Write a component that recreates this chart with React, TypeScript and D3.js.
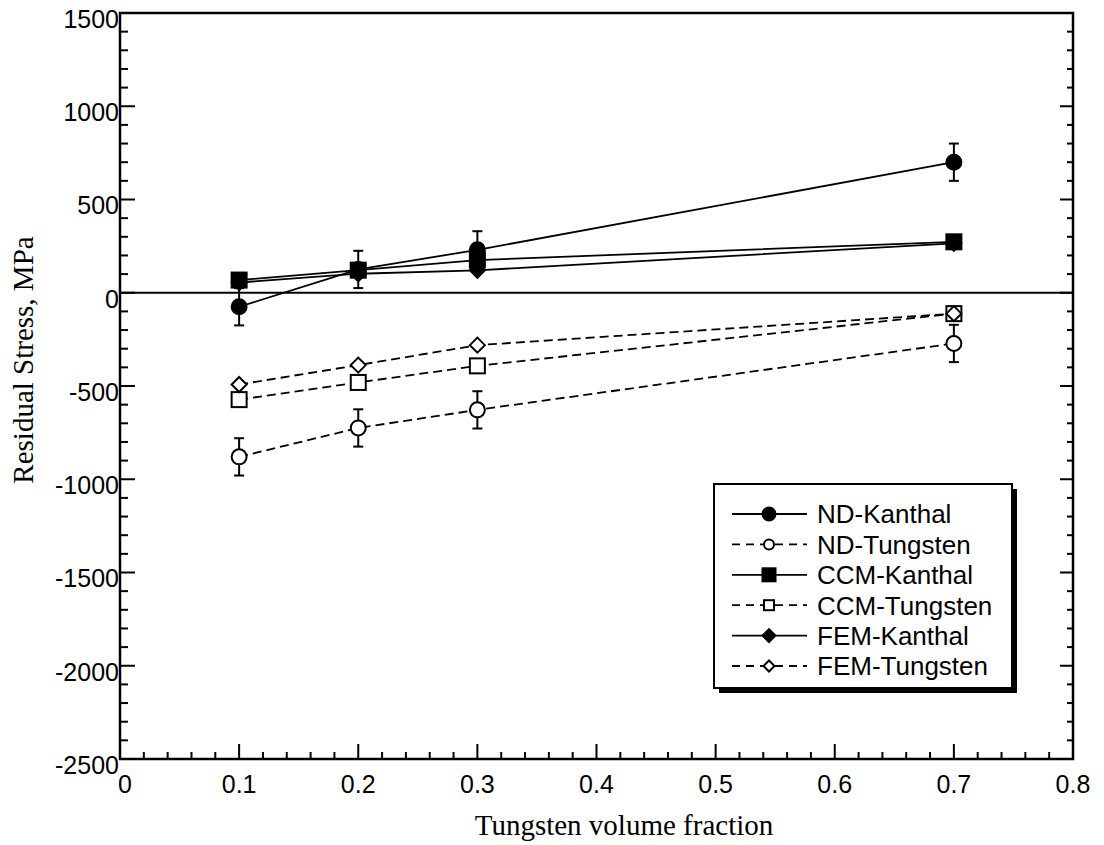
import React from "react";
import * as d3 from "d3";

// Tungsten volume fraction
const fractions = [0.1, 0.2, 0.3, 0.7];

// residual stress, MPa
const ndKanthal = [-75, 125, 230, 700];
const ndTungsten = [-880, -725, -628, -272];
const ccmKanthal = [68, 121, 175, 273];
const ccmTungsten = [-573, -481, -392, -112];
const femKanthal = [55, 102, 120, 265];
const femTungsten = [-492, -388, -281, -112];
const ndError = [100, 100, 100, 100];

const xTicks = [0, 0.1, 0.2, 0.3, 0.4, 0.5, 0.6, 0.7, 0.8];
const yTicks = [-2500, -2000, -1500, -1000, -500, 0, 500, 1000, 1500];

type Shape = "circle" | "square" | "diamond";

const seriesList: { name: string; values: number[]; shape: Shape; filled: boolean; err?: number[] }[] = [
  { name: "ND-Kanthal", values: ndKanthal, shape: "circle", filled: true, err: ndError },
  { name: "ND-Tungsten", values: ndTungsten, shape: "circle", filled: false, err: ndError },
  { name: "CCM-Kanthal", values: ccmKanthal, shape: "square", filled: true },
  { name: "CCM-Tungsten", values: ccmTungsten, shape: "square", filled: false },
  { name: "FEM-Kanthal", values: femKanthal, shape: "diamond", filled: true },
  { name: "FEM-Tungsten", values: femTungsten, shape: "diamond", filled: false },
];

const W = 1104;
const H = 845;
const left = 120;
const right = 1073;
const top = 13;
const bottom = 759;

const sans = "'Liberation Sans', Arial, sans-serif";
const serif = "'Liberation Serif', 'Times New Roman', serif";

function Marker({ shape, filled, x, y, size }: { shape: Shape; filled: boolean; x: number; y: number; size: number }) {
  const fill = filled ? "#000" : "#fff";
  const sw = 2;
  if (shape === "circle") {
    return <circle cx={x} cy={y} r={size / 2} fill={fill} stroke="#000" strokeWidth={sw} />;
  }
  if (shape === "square") {
    return <rect x={x - size / 2} y={y - size / 2} width={size} height={size} fill={fill} stroke="#000" strokeWidth={sw} />;
  }
  const h = size / 2;
  return (
    <path
      d={`M${x},${y - h}L${x + h},${y}L${x},${y + h}L${x - h},${y}Z`}
      fill={fill}
      stroke="#000"
      strokeWidth={sw}
    />
  );
}

export default function App() {
  const x = d3.scaleLinear().domain([0, 0.8]).range([left, right]);
  const y = d3.scaleLinear().domain([-2500, 1500]).range([bottom, top]);

  const xMinor = d3.range(0, 0.8001, 0.02).filter((v) => Math.abs(v * 10 - Math.round(v * 10)) > 1e-6);
  const yMinor = d3.range(-2500, 1501, 100).filter((v) => v % 500 !== 0);

  const line = d3
    .line<number>()
    .x((_, i) => x(fractions[i]))
    .y((d) => y(d));

  const legX0 = 714;
  const legY0 = 484;
  const legW = 298;
  const legH = 204;
  const rowY = (i: number) => 514 + i * 30.4;

  return (
    <svg width={W} height={H} style={{ position: "absolute", left: 0, top: 0, background: "#fff" }}>
      {/* zero line */}
      <line x1={left} x2={right} y1={y(0)} y2={y(0)} stroke="#000" strokeWidth={2} />

      {/* series lines */}
      {seriesList.map((s) => (
        <path
          key={s.name}
          d={line(s.values) || ""}
          fill="none"
          stroke="#000"
          strokeWidth={1.8}
          strokeDasharray={s.filled ? undefined : "9,5"}
        />
      ))}

      {/* error bars */}
      {seriesList
        .filter((s) => s.err)
        .map((s) =>
          s.values.map((v, i) => {
            const cx = x(fractions[i]);
            const e = s.err![i];
            return (
              <g key={s.name + i} stroke="#000" strokeWidth={2}>
                <line x1={cx} x2={cx} y1={y(v + e)} y2={y(v - e)} />
                <line x1={cx - 5} x2={cx + 5} y1={y(v + e)} y2={y(v + e)} />
                <line x1={cx - 5} x2={cx + 5} y1={y(v - e)} y2={y(v - e)} />
              </g>
            );
          })
        )}

      {/* markers */}
      {seriesList.map((s) =>
        s.values.map((v, i) => (
          <Marker
            key={s.name + "m" + i}
            shape={s.shape}
            filled={s.filled}
            x={x(fractions[i])}
            y={y(v)}
            size={15}
          />
        ))
      )}

      {/* frame */}
      <rect x={left} y={top} width={right - left} height={bottom - top} fill="none" stroke="#000" strokeWidth={2.5} />

      {/* x ticks */}
      {xTicks.map((t) => (
        <line key={"xt" + t} x1={x(t)} x2={x(t)} y1={bottom} y2={bottom - 15} stroke="#000" strokeWidth={2} />
      ))}
      {xMinor.map((t) => (
        <line key={"xm" + t} x1={x(t)} x2={x(t)} y1={bottom} y2={bottom - 7} stroke="#000" strokeWidth={2} />
      ))}
      {xTicks.map((t) => (
        <text key={"xl" + t} x={x(t) + (t === 0 ? 5 : 0)} y={793} textAnchor="middle" fontFamily={sans} fontSize={25}>
          {t === 0 ? "0" : String(t)}
        </text>
      ))}

      {/* y ticks, left and right */}
      {yTicks.map((t) => (
        <g key={"yt" + t} stroke="#000" strokeWidth={2}>
          <line x1={left} x2={left + 15} y1={y(t)} y2={y(t)} />
          <line x1={right} x2={right - 13} y1={y(t)} y2={y(t)} />
        </g>
      ))}
      {yMinor.map((t) => (
        <g key={"ym" + t} stroke="#000" strokeWidth={2}>
          <line x1={left} x2={left + 8} y1={y(t)} y2={y(t)} />
          <line x1={right} x2={right - 6} y1={y(t)} y2={y(t)} />
        </g>
      ))}
      {yTicks.map((t) => (
        <text key={"yl" + t} x={left - 1} y={y(t) + 6} dy="0.35em" textAnchor="end" fontFamily={sans} fontSize={25}>
          {t}
        </text>
      ))}

      {/* axis titles */}
      <text x={624} y={835} textAnchor="middle" fontFamily={serif} fontSize={29}>
        Tungsten volume fraction
      </text>
      <text transform="translate(33,360) rotate(-90)" textAnchor="middle" fontFamily={serif} fontSize={29}>
        Residual Stress, MPa
      </text>

      {/* legend */}
      <rect x={legX0 + 5} y={legY0 + 5} width={legW} height={legH} fill="#000" />
      <rect x={legX0} y={legY0} width={legW} height={legH} fill="#fff" stroke="#000" strokeWidth={2} />
      {seriesList.map((s, i) => {
        const ly = rowY(i);
        const size = s.filled ? 13 : s.shape === "diamond" ? 11 : 10;
        return (
          <g key={"lg" + s.name}>
            {s.filled ? (
              <line x1={732} x2={807} y1={ly} y2={ly} stroke="#000" strokeWidth={1.8} />
            ) : (
              <g stroke="#000" strokeWidth={1.8}>
                <line x1={732} x2={764} y1={ly} y2={ly} strokeDasharray="8,6" />
                <line x1={775} x2={807} y1={ly} y2={ly} strokeDasharray="8,6" />
              </g>
            )}
            <Marker shape={s.shape} filled={s.filled} x={769} y={ly} size={size} />
            <text x={817} y={ly} dy="0.36em" fontFamily={sans} fontSize={26}>
              {s.name}
            </text>
          </g>
        );
      })}
    </svg>
  );
}
